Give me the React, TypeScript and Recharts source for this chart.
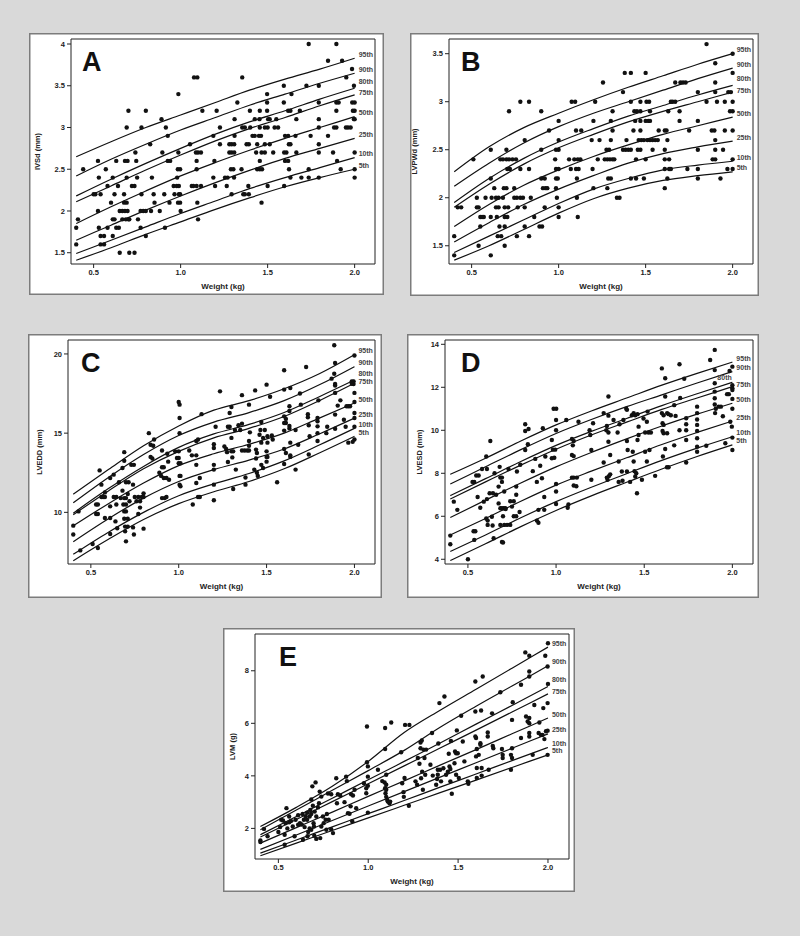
import React from 'react';
import { ComposedChart, Scatter, Line, XAxis, YAxis, ReferenceArea } from 'recharts';

const FONT = '"Liberation Sans", Arial, sans-serif';

// weights where the percentile curves were sampled
const WEIGHTS = [0.4, 0.6, 0.8, 1.0, 1.2, 1.4, 1.6, 1.8, 2.0];
const PCT_LABELS = ['95th', '90th', '80th', '75th', '50th', '25th', '10th', '5th'];
const X_TICKS = [0.5, 1.0, 1.5, 2.0];
const X_DOMAIN = [0.37, 2.117];

// ---- A: IVSd ----
const aTicks = [1.5, 2, 2.5, 3, 3.5, 4];
const aCurves = [
  [2.65, 2.83, 3.0, 3.15, 3.3, 3.45, 3.58, 3.7, 3.83],
  [2.42, 2.62, 2.8, 2.97, 3.12, 3.27, 3.4, 3.53, 3.65],
  [2.18, 2.38, 2.57, 2.75, 2.92, 3.07, 3.2, 3.34, 3.47],
  [2.11, 2.3, 2.49, 2.67, 2.84, 2.99, 3.12, 3.26, 3.39],
  [1.85, 2.05, 2.24, 2.42, 2.58, 2.73, 2.87, 3.0, 3.13],
  [1.65, 1.83, 2.01, 2.18, 2.34, 2.49, 2.63, 2.75, 2.87],
  [1.49, 1.65, 1.81, 1.97, 2.12, 2.27, 2.4, 2.52, 2.64],
  [1.41, 1.56, 1.72, 1.87, 2.02, 2.16, 2.29, 2.4, 2.5],
];
const aPoints = [
  [0.40,1.6],[0.40,1.8],[0.41,1.9],[0.44,2.5],[0.50,2.2],[0.51,2.2],[0.525,2.6],[0.53,2.4],[0.525,2.0],[0.53,1.8],
  [0.54,1.7],[0.56,1.7],[0.54,2.2],[0.54,1.6],[0.56,1.6],[0.57,2.5],[0.58,2.3],[0.58,1.8],[0.60,2.1],[0.61,2.4],
  [0.61,1.7],[0.61,1.9],[0.62,1.9],[0.62,2.2],[0.63,2.6],[0.63,1.8],[0.645,1.8],[0.65,2.0],[0.665,2.0],[0.64,2.3],
  [0.65,1.5],[0.665,1.9],[0.685,1.9],[0.675,2.1],[0.69,2.1],[0.675,2.2],[0.68,2.6],[0.695,2.6],[0.69,2.4],[0.69,3.0],
  [0.70,3.2],[0.68,2.0],[0.695,2.0],[0.70,1.9],[0.705,1.9],[0.705,1.5],[0.735,1.5],[0.72,2.3],[0.735,2.3],[0.74,2.7],
  [0.745,2.6],[0.75,2.4],[0.755,1.9],[0.77,1.8],[0.775,2.2],[0.775,3.0],[0.77,2.0],[0.785,2.0],[0.80,1.7],[0.80,3.2],
  [0.80,2.0],[0.825,2.8],[0.83,2.0],[0.835,2.4],[0.845,2.2],[0.85,2.1],[0.88,2.0],[0.89,3.1],[0.895,2.7],[0.906,2.2],
  [0.91,1.8],[0.915,3.0],[0.926,2.9],[0.926,2.6],[0.94,2.6],[0.936,2.1],[0.96,2.3],[0.965,2.2],[0.978,2.3],[0.99,2.3],
  [0.98,2.4],[0.984,2.5],[0.997,2.5],[0.987,3.4],[0.985,2.1],[0.997,2.1],[0.99,2.2],[0.997,2.2],[0.987,2.7],[1.0,2.0],
  [1.054,2.8],[1.064,2.3],[1.073,2.3],[1.092,2.3],[1.117,2.3],[1.077,3.6],[1.096,3.6],[1.088,2.7],[1.1,2.7],[1.117,2.7],
  [1.092,2.5],[1.092,2.6],[1.096,2.1],[1.1,1.9],[1.125,3.2],[1.188,2.9],[1.188,2.4],[1.194,2.6],[1.198,2.3],[1.207,3.2],
  [1.226,3.0],[1.226,2.8],[1.255,2.4],[1.27,2.4],[1.265,2.3],[1.28,2.7],[1.293,2.7],[1.308,2.7],[1.28,2.8],[1.293,2.8],
  [1.308,2.8],[1.289,2.5],[1.303,2.5],[1.293,2.2],[1.307,2.4],[1.31,2.9],[1.31,3.1],[1.326,3.3],[1.35,2.5],[1.354,3.6],
  [1.354,3.0],[1.369,3.0],[1.36,2.2],[1.369,2.2],[1.379,2.8],[1.392,2.8],[1.389,2.3],[1.392,2.2],[1.398,3.2],[1.4,3.0],
  [1.413,2.9],[1.426,2.9],[1.426,3.1],[1.434,2.7],[1.44,2.8],[1.44,2.5],[1.455,2.5],[1.468,2.5],[1.45,2.9],[1.462,2.9],
  [1.453,3.1],[1.455,3.0],[1.455,2.6],[1.455,3.2],[1.465,2.1],[1.465,2.7],[1.484,2.8],[1.484,3.0],[1.484,2.7],[1.497,3.4],
  [1.497,3.3],[1.497,3.2],[1.503,3.1],[1.512,3.1],[1.5,3.0],[1.5,2.3],[1.512,2.8],[1.532,2.7],[1.54,3.0],[1.55,3.1],
  [1.56,3.0],[1.593,3.5],[1.593,3.3],[1.595,2.3],[1.595,2.7],[1.608,2.7],[1.6,2.6],[1.618,2.6],[1.6,2.9],[1.618,2.9],
  [1.618,3.2],[1.631,3.2],[1.622,2.8],[1.631,2.8],[1.623,2.5],[1.631,2.4],[1.637,3.4],[1.66,2.9],[1.665,2.7],[1.665,3.1],
  [1.685,3.2],[1.694,2.4],[1.723,3.5],[1.736,4.0],[1.736,2.4],[1.736,2.5],[1.747,2.9],[1.794,3.5],[1.794,3.3],[1.794,3.1],
  [1.794,3.0],[1.794,2.8],[1.794,2.7],[1.794,2.4],[1.847,2.9],[1.847,3.8],[1.876,2.7],[1.882,3.0],[1.895,3.0],[1.895,4.0],
  [1.895,3.2],[1.895,3.3],[1.908,3.3],[1.899,2.6],[1.92,2.5],[1.928,3.8],[1.95,3.0],[1.962,3.0],[1.977,3.0],[1.952,3.6],
  [1.985,3.7],[1.986,3.3],[2.0,3.3],[1.99,3.2],[2.0,3.2],[1.996,3.1],[2.0,3.1],[1.996,3.5],[2.0,2.7],[2.0,2.5],[2.0,2.4],
];

// ---- B: LVPWd ----
const bTicks = [1.5, 2, 2.5, 3, 3.5];
const bCurves = [
  [2.27, 2.53, 2.73, 2.88, 3.02, 3.15, 3.27, 3.39, 3.5],
  [2.12, 2.36, 2.57, 2.74, 2.88, 3.0, 3.12, 3.24, 3.35],
  [1.95, 2.2, 2.41, 2.58, 2.72, 2.85, 2.96, 3.07, 3.17],
  [1.9, 2.14, 2.35, 2.52, 2.66, 2.79, 2.9, 3.0, 3.1],
  [1.7, 1.93, 2.13, 2.29, 2.43, 2.55, 2.66, 2.75, 2.84],
  [1.54, 1.74, 1.93, 2.09, 2.23, 2.36, 2.46, 2.53, 2.59],
  [1.43, 1.6, 1.77, 1.94, 2.09, 2.2, 2.29, 2.34, 2.38],
  [1.35, 1.5, 1.67, 1.84, 1.99, 2.1, 2.18, 2.23, 2.27],
];
const bPoints = [
  [0.40,1.6],[0.40,1.4],[0.42,1.9],[0.44,1.9],[0.51,2.4],[0.53,2.0],[0.53,1.9],[0.54,1.9],[0.54,1.5],[0.55,1.8],
  [0.56,1.8],[0.57,1.8],[0.55,1.7],[0.58,2.0],[0.61,2.5],[0.61,2.2],[0.61,1.8],[0.61,1.4],[0.615,2.0],[0.63,2.1],
  [0.64,2.0],[0.655,2.0],[0.64,1.9],[0.655,1.9],[0.645,1.8],[0.65,1.6],[0.66,1.7],[0.665,2.4],[0.68,2.4],[0.67,1.6],
  [0.68,2.0],[0.685,2.1],[0.70,2.1],[0.69,1.7],[0.69,1.9],[0.71,1.9],[0.69,1.8],[0.705,1.8],[0.69,1.5],[0.70,2.5],
  [0.70,2.4],[0.715,2.4],[0.705,2.3],[0.715,2.9],[0.72,2.3],[0.735,2.4],[0.755,2.4],[0.745,2.1],[0.745,2.0],[0.76,2.0],
  [0.76,1.6],[0.765,1.9],[0.78,2.0],[0.78,3.0],[0.78,2.3],[0.795,2.0],[0.805,1.9],[0.805,2.6],[0.805,1.7],[0.83,3.0],
  [0.83,1.6],[0.83,2.3],[0.84,2.0],[0.86,1.8],[0.90,2.9],[0.89,1.7],[0.905,1.7],[0.90,2.2],[0.90,2.5],[0.91,2.1],
  [0.925,2.1],[0.935,2.1],[0.92,2.2],[0.92,1.9],[0.945,2.7],[0.98,2.4],[0.985,2.2],[0.995,2.2],[0.985,2.3],[0.985,2.1],
  [0.985,2.5],[1.0,2.5],[0.99,2.0],[1.0,2.8],[1.0,2.6],[1.0,2.3],[1.0,1.9],[1.0,1.8],[1.06,2.4],[1.07,2.3],
  [1.075,3.0],[1.095,3.0],[1.09,2.4],[1.1,2.7],[1.1,2.3],[1.115,2.3],[1.105,2.2],[1.105,2.0],[1.11,2.4],[1.125,2.4],
  [1.11,1.8],[1.13,2.7],[1.19,2.6],[1.195,2.3],[1.2,2.8],[1.2,2.1],[1.21,3.0],[1.225,2.4],[1.235,2.6],[1.255,3.2],
  [1.265,2.4],[1.275,2.5],[1.29,2.5],[1.28,2.4],[1.295,2.4],[1.31,2.4],[1.28,2.1],[1.285,2.2],[1.3,2.2],[1.3,2.6],
  [1.3,2.8],[1.31,2.7],[1.31,2.9],[1.32,2.4],[1.335,2.0],[1.35,2.0],[1.37,3.1],[1.38,3.3],[1.415,3.3],[1.37,2.5],
  [1.385,2.5],[1.4,2.5],[1.39,2.6],[1.415,3.0],[1.415,2.2],[1.415,2.5],[1.43,2.7],[1.435,2.9],[1.45,2.9],[1.44,2.8],
  [1.445,2.4],[1.445,2.2],[1.455,2.5],[1.47,2.5],[1.46,2.6],[1.47,3.0],[1.47,2.9],[1.47,2.7],[1.47,2.8],[1.475,2.6],
  [1.49,2.6],[1.49,2.2],[1.5,2.8],[1.515,2.8],[1.525,2.8],[1.505,3.0],[1.52,3.0],[1.5,3.3],[1.51,2.6],[1.525,2.6],
  [1.54,2.6],[1.5,2.4],[1.525,2.9],[1.54,2.5],[1.555,2.6],[1.57,2.6],[1.575,2.7],[1.61,2.7],[1.61,2.5],[1.61,2.4],
  [1.61,2.3],[1.61,2.1],[1.62,2.7],[1.625,2.6],[1.635,2.3],[1.645,2.3],[1.625,2.2],[1.63,2.9],[1.635,2.4],[1.645,3.0],
  [1.655,3.0],[1.67,3.2],[1.7,3.2],[1.715,3.2],[1.73,3.2],[1.67,3.0],[1.695,2.9],[1.695,2.8],[1.75,2.7],[1.74,2.3],
  [1.8,3.1],[1.8,2.8],[1.8,2.5],[1.8,2.3],[1.8,2.2],[1.85,3.6],[1.85,3.0],[1.88,2.7],[1.895,2.7],[1.885,2.4],
  [1.9,2.4],[1.9,3.4],[1.9,3.2],[1.9,3.1],[1.9,2.6],[1.9,2.5],[1.91,3.0],[1.93,2.2],[1.945,2.5],[1.955,2.7],
  [1.955,3.0],[1.975,3.1],[1.99,3.1],[1.97,2.3],[2.0,2.3],[1.985,2.9],[2.0,2.9],[2.0,3.5],[2.0,3.3],[2.0,3.0],
  [2.0,2.7],[2.0,2.4],
];

// ---- C: LVEDD ----
const cTicks = [10, 15, 20];
const cCurves = [
  [11.15, 12.7, 14.2, 15.45, 16.45, 17.05, 17.8, 18.75, 19.95],
  [10.6, 12.2, 13.65, 14.85, 15.7, 16.3, 17.05, 18.05, 19.2],
  [9.95, 11.5, 12.9, 14.1, 14.95, 15.55, 16.3, 17.3, 18.35],
  [9.85, 11.35, 12.75, 13.85, 14.7, 15.3, 16.05, 17.05, 18.15],
  [9.15, 10.55, 11.85, 12.95, 13.7, 14.3, 15.0, 15.95, 16.9],
  [8.15, 9.6, 10.9, 11.95, 12.7, 13.3, 14.0, 14.95, 15.95],
  [7.35, 8.75, 10.0, 11.05, 11.8, 12.45, 13.25, 14.25, 15.3],
  [6.95, 8.3, 9.55, 10.55, 11.3, 11.95, 12.75, 13.75, 14.8],
];
const cPoints = [
  [0.40,9.16],[0.40,8.6],[0.43,10.06],[0.44,7.6],[0.51,8.0],[0.54,7.75],[0.53,9.9],[0.54,9.9],[0.53,10.5],[0.54,10.5],
  [0.55,12.65],[0.56,11.75],[0.56,10.97],[0.57,10.97],[0.58,10.97],[0.58,11.26],[0.58,9.64],[0.61,12.17],[0.61,10.38],[0.61,8.63],
  [0.61,9.64],[0.63,12.38],[0.63,10.97],[0.645,10.97],[0.64,9.43],[0.65,9.0],[0.645,10.5],[0.66,11.9],[0.68,12.8],[0.69,13.26],
  [0.69,13.8],[0.67,10.9],[0.69,10.9],[0.70,10.9],[0.68,11.37],[0.685,10.5],[0.70,10.5],[0.69,10.06],[0.70,10.06],[0.69,9.6],
  [0.71,9.6],[0.695,9.1],[0.71,9.1],[0.695,8.8],[0.70,8.17],[0.70,11.9],[0.715,11.9],[0.71,11.16],[0.72,10.7],[0.73,13.0],
  [0.745,13.0],[0.74,11.75],[0.74,9.05],[0.745,8.6],[0.75,10.97],[0.77,10.97],[0.79,10.97],[0.80,10.97],[0.76,10.7],[0.78,10.7],
  [0.77,9.9],[0.78,10.3],[0.80,11.2],[0.80,8.97],[0.83,15.0],[0.84,13.5],[0.85,13.4],[0.84,14.27],[0.855,14.2],[0.86,14.6],
  [0.89,12.5],[0.90,12.3],[0.905,13.9],[0.905,12.85],[0.915,12.85],[0.905,10.9],[0.92,10.9],[0.915,12.17],[0.93,12.17],[0.93,10.97],
  [0.94,13.2],[0.935,13.7],[0.945,12.06],[0.98,13.85],[1.0,13.85],[0.99,13.43],[1.0,13.43],[1.0,13.1],[1.01,13.1],[1.0,16.97],
  [1.005,16.8],[1.005,15.96],[1.005,15.0],[1.005,12.3],[1.01,12.3],[1.005,11.75],[1.01,11.65],[1.06,13.9],[1.075,13.6],[1.08,10.5],
  [1.1,13.6],[1.1,13.0],[1.1,14.5],[1.11,14.6],[1.1,11.85],[1.11,10.97],[1.12,10.97],[1.12,12.17],[1.13,16.2],[1.2,14.3],
  [1.2,14.06],[1.2,13.0],[1.2,12.7],[1.2,11.75],[1.2,10.76],[1.21,15.4],[1.235,17.64],[1.26,14.16],[1.27,14.0],[1.275,13.8],
  [1.28,15.4],[1.29,15.4],[1.28,13.18],[1.29,16.27],[1.3,16.65],[1.3,14.7],[1.3,13.85],[1.31,13.85],[1.305,13.47],[1.31,11.47],
  [1.32,15.2],[1.325,12.7],[1.34,15.5],[1.35,15.2],[1.36,17.4],[1.36,15.6],[1.36,13.9],[1.375,13.9],[1.39,13.9],[1.38,12.2],
  [1.38,11.75],[1.4,14.5],[1.4,14.2],[1.4,13.9],[1.405,15.05],[1.4,16.8],[1.43,12.7],[1.435,17.7],[1.44,13.96],[1.445,13.75],
  [1.44,13.4],[1.445,12.5],[1.45,12.3],[1.46,14.9],[1.465,15.2],[1.47,15.7],[1.47,13.0],[1.47,14.4],[1.48,14.7],[1.48,12.8],
  [1.49,15.2],[1.5,18.06],[1.5,13.85],[1.5,13.5],[1.505,13.5],[1.5,13.2],[1.505,14.8],[1.505,14.4],[1.52,17.3],[1.53,14.85],
  [1.535,14.6],[1.56,11.9],[1.6,18.97],[1.6,17.75],[1.6,16.06],[1.61,15.9],[1.6,15.64],[1.61,15.64],[1.6,15.16],[1.6,14.0],
  [1.61,13.75],[1.6,13.05],[1.63,16.7],[1.63,16.4],[1.63,15.3],[1.63,15.45],[1.635,13.6],[1.635,17.85],[1.635,14.4],[1.635,13.5],
  [1.665,15.2],[1.665,12.7],[1.68,14.27],[1.69,17.5],[1.695,16.8],[1.725,19.18],[1.735,16.2],[1.735,16.0],[1.74,13.65],[1.74,15.5],
  [1.745,14.8],[1.79,15.96],[1.79,15.75],[1.79,15.43],[1.79,15.0],[1.79,14.5],[1.795,17.07],[1.84,15.0],[1.845,15.4],[1.87,18.44],
  [1.885,20.55],[1.89,19.43],[1.885,18.75],[1.89,18.1],[1.89,18.0],[1.89,17.54],[1.89,16.17],[1.89,15.28],[1.905,16.74],[1.92,17.07],
  [1.94,15.85],[1.95,15.4],[1.955,16.7],[1.965,16.7],[1.975,16.7],[1.965,14.4],[1.985,18.27],[1.995,18.27],[1.995,18.1],[1.985,18.12],
  [2.0,19.9],[2.0,17.54],[2.0,16.97],[2.0,16.27],[2.0,15.96],[2.0,14.6],[2.0,15.4],[1.99,14.45],
];

// ---- D: LVESD ----
const dTicks = [4, 6, 8, 10, 12, 14];
const dCurves = [
  [7.95, 8.7, 9.5, 10.25, 10.9, 11.5, 12.1, 12.65, 13.17],
  [7.5, 8.3, 9.1, 9.85, 10.5, 11.1, 11.65, 12.2, 12.73],
  [6.96, 7.75, 8.55, 9.3, 9.95, 10.55, 11.15, 11.7, 12.23],
  [6.8, 7.6, 8.38, 9.12, 9.78, 10.38, 10.97, 11.5, 12.03],
  [5.94, 6.75, 7.55, 8.3, 8.97, 9.6, 10.2, 10.75, 11.26],
  [5.13, 5.9, 6.7, 7.45, 8.1, 8.72, 9.34, 9.9, 10.43],
  [4.36, 5.13, 5.93, 6.68, 7.35, 7.98, 8.6, 9.17, 9.7],
  [3.94, 4.72, 5.52, 6.27, 6.95, 7.58, 8.2, 8.78, 9.32],
];
const dPoints = [
  [0.40,5.1],[0.40,4.7],[0.42,6.68],[0.44,6.3],[0.50,4.0],[0.526,7.6],[0.536,7.6],[0.532,5.3],[0.542,5.3],[0.536,4.9],
  [0.547,7.9],[0.561,7.9],[0.555,6.9],[0.57,6.4],[0.58,8.2],[0.59,6.68],[0.604,8.78],[0.608,8.2],[0.608,6.8],[0.604,5.9],
  [0.612,5.8],[0.612,5.6],[0.627,9.5],[0.623,7.07],[0.642,7.07],[0.636,5.98],[0.64,5.57],[0.646,4.98],[0.651,8.0],[0.66,7.0],
  [0.674,6.6],[0.674,7.38],[0.68,8.3],[0.684,7.8],[0.693,7.8],[0.684,6.37],[0.693,6.37],[0.703,6.37],[0.712,6.37],[0.684,5.6],
  [0.706,5.6],[0.722,5.6],[0.74,5.6],[0.693,4.8],[0.699,4.78],[0.693,7.6],[0.699,6.0],[0.706,7.15],[0.714,6.34],[0.73,8.2],
  [0.74,6.7],[0.76,6.7],[0.75,6.45],[0.76,6.0],[0.774,6.0],[0.774,7.38],[0.774,7.0],[0.778,8.08],[0.793,6.2],[0.797,8.4],
  [0.825,10.28],[0.825,9.97],[0.825,9.08],[0.844,10.06],[0.84,9.35],[0.868,8.1],[0.882,8.67],[0.891,7.6],[0.891,5.8],[0.9,5.7],
  [0.9,6.3],[0.91,8.35],[0.92,7.77],[0.925,10.1],[0.933,6.3],[0.933,6.9],[0.939,8.78],[0.976,9.55],[0.982,9.1],[0.995,9.1],
  [0.976,8.7],[0.99,8.72],[0.986,11.0],[1.001,11.0],[1.0,10.48],[1.0,10.0],[1.0,7.5],[1.0,7.15],[1.0,6.57],[1.058,10.48],
  [1.07,6.55],[1.066,6.4],[1.09,9.6],[1.1,9.5],[1.095,9.3],[1.09,8.85],[1.1,8.8],[1.09,7.8],[1.1,7.8],[1.1,7.43],
  [1.115,7.4],[1.118,7.8],[1.127,10.4],[1.19,10.0],[1.194,9.78],[1.2,9.08],[1.2,7.7],[1.21,10.33],[1.27,10.8],[1.27,8.5],
  [1.285,10.0],[1.288,10.2],[1.288,7.8],[1.3,7.87],[1.307,7.95],[1.292,7.7],[1.297,11.57],[1.297,10.68],[1.297,9.9],[1.297,9.47],
  [1.307,8.85],[1.326,10.48],[1.349,9.9],[1.36,10.28],[1.355,8.55],[1.355,7.6],[1.373,8.08],[1.377,7.65],[1.382,10.48],[1.398,11.0],
  [1.402,10.95],[1.402,9.5],[1.406,9.08],[1.402,8.08],[1.42,7.6],[1.43,10.7],[1.44,10.8],[1.449,10.7],[1.462,10.75],[1.435,9.0],
  [1.44,8.55],[1.445,8.1],[1.455,8.0],[1.449,7.85],[1.459,7.07],[1.462,9.55],[1.468,10.17],[1.468,9.78],[1.487,7.7],[1.496,10.55],
  [1.505,9.0],[1.505,9.9],[1.524,9.9],[1.515,10.4],[1.515,8.55],[1.519,10.87],[1.53,9.08],[1.538,9.9],[1.562,7.88],[1.6,12.88],
  [1.6,10.8],[1.61,10.7],[1.604,10.33],[1.61,10.25],[1.604,9.97],[1.61,9.86],[1.606,8.78],[1.619,12.42],[1.619,11.57],[1.619,9.13],
  [1.63,10.8],[1.638,10.75],[1.63,9.86],[1.629,8.28],[1.638,8.28],[1.651,10.7],[1.67,11.17],[1.67,9.3],[1.678,10.67],[1.7,13.07],
  [1.704,11.5],[1.7,10.0],[1.727,12.4],[1.738,10.56],[1.738,10.28],[1.738,10.0],[1.738,9.55],[1.738,8.5],[1.8,11.1],[1.8,10.8],
  [1.8,10.5],[1.8,10.25],[1.8,9.97],[1.8,9.63],[1.8,9.24],[1.8,9.0],[1.852,9.28],[1.874,13.27],[1.9,13.74],[1.9,12.8],
  [1.9,12.19],[1.9,11.8],[1.9,11.49],[1.9,11.2],[1.906,11.0],[1.902,10.8],[1.922,11.1],[1.935,11.1],[1.946,10.65],[1.96,9.4],
  [1.97,11.68],[1.98,11.68],[1.984,12.76],[1.988,10.4],[1.997,10.17],[2.0,12.96],[2.0,12.1],[2.0,11.95],[2.0,11.87],[2.0,11.46],
  [2.0,11.0],[2.0,9.66],[2.0,9.08],
];

// ---- E: LVM ----
const eTicks = [2, 4, 6, 8];
const eCurves = [
  [2.07, 2.8, 3.6, 4.55, 5.65, 6.5, 7.3, 8.1, 8.9],
  [1.95, 2.7, 3.45, 4.2, 4.97, 5.85, 6.65, 7.42, 8.19],
  [1.76, 2.45, 3.15, 3.85, 4.55, 5.25, 5.97, 6.68, 7.4],
  [1.67, 2.34, 3.02, 3.7, 4.38, 5.06, 5.74, 6.43, 7.12],
  [1.44, 2.03, 2.62, 3.22, 3.81, 4.41, 5.0, 5.6, 6.2],
  [1.2, 1.75, 2.3, 2.85, 3.4, 3.95, 4.5, 5.05, 5.6],
  [1.06, 1.56, 2.06, 2.56, 3.06, 3.57, 4.07, 4.58, 5.08],
  [0.96, 1.44, 1.92, 2.4, 2.88, 3.36, 3.84, 4.32, 4.8],
];
const ePoints = [
  [0.40,1.54],[0.40,1.48],[0.42,1.98],[0.44,1.7],[0.50,1.86],[0.51,2.05],[0.516,2.33],[0.526,2.3],[0.535,1.38],[0.535,1.76],
  [0.54,2.2],[0.545,2.77],[0.55,2.0],[0.56,2.23],[0.57,2.28],[0.56,2.45],[0.58,2.07],[0.59,1.7],[0.596,2.33],[0.61,2.5],
  [0.61,2.14],[0.62,2.2],[0.63,2.15],[0.635,2.55],[0.642,2.33],[0.637,1.57],[0.646,2.05],[0.652,2.45],[0.66,2.6],[0.66,2.33],
  [0.662,1.7],[0.666,1.86],[0.674,2.45],[0.683,2.55],[0.674,2.0],[0.683,1.95],[0.678,2.7],[0.683,3.1],[0.689,3.6],[0.692,2.86],
  [0.696,2.2],[0.698,2.07],[0.7,1.72],[0.707,3.75],[0.711,2.45],[0.711,1.6],[0.702,2.64],[0.72,2.8],[0.726,2.96],[0.73,3.4],
  [0.733,1.63],[0.739,2.07],[0.739,3.21],[0.748,2.45],[0.752,2.2],[0.763,2.33],[0.767,1.95],[0.77,2.55],[0.776,3.33],[0.794,3.3],
  [0.78,2.33],[0.794,1.97],[0.804,1.82],[0.822,3.91],[0.826,2.96],[0.831,3.3],[0.844,3.25],[0.868,3.0],[0.877,3.97],[0.881,3.8],
  [0.887,2.58],[0.896,2.56],[0.902,2.84],[0.905,3.3],[0.915,3.25],[0.911,2.27],[0.924,3.47],[0.933,2.77],[0.976,3.72],[0.989,3.53],
  [0.989,3.34],[0.993,5.88],[0.993,4.52],[0.998,3.97],[0.998,4.36],[0.998,2.6],[0.998,3.62],[1.054,4.23],[1.078,3.8],[1.091,3.75],
  [1.094,5.82],[1.094,5.02],[1.094,3.53],[1.1,3.47],[1.096,3.34],[1.1,3.2],[1.106,3.08],[1.109,3.02],[1.1,3.66],[1.1,4.04],
  [1.118,2.96],[1.122,3.02],[1.128,6.03],[1.183,4.9],[1.189,3.72],[1.196,3.38],[1.198,3.2],[1.202,3.92],[1.205,5.94],[1.229,5.94],
  [1.226,2.86],[1.263,3.79],[1.272,3.66],[1.276,4.68],[1.285,4.46],[1.291,5.27],[1.298,5.35],[1.291,5.05],[1.294,3.91],[1.3,4.16],
  [1.304,3.47],[1.307,5.0],[1.313,4.68],[1.317,4.04],[1.322,5.0],[1.346,4.42],[1.355,5.63],[1.359,4.01],[1.378,3.66],[1.383,3.88],
  [1.387,4.04],[1.39,5.23],[1.387,4.23],[1.396,6.77],[1.4,4.23],[1.405,3.79],[1.418,4.29],[1.424,7.02],[1.433,4.04],[1.443,4.16],
  [1.448,4.84],[1.452,4.36],[1.457,4.26],[1.457,3.79],[1.46,5.33],[1.465,3.32],[1.48,4.48],[1.483,4.93],[1.489,4.86],[1.498,4.86],
  [1.489,4.04],[1.493,5.73],[1.504,3.92],[1.517,6.29],[1.526,5.31],[1.535,4.55],[1.554,3.79],[1.557,3.7],[1.596,7.59],[1.596,6.45],
  [1.596,5.5],[1.6,5.44],[1.604,5.02],[1.6,4.74],[1.604,4.3],[1.604,3.92],[1.615,4.8],[1.624,5.24],[1.624,5.18],[1.628,6.49],
  [1.631,4.3],[1.631,4.01],[1.637,7.78],[1.67,4.23],[1.665,5.65],[1.665,5.5],[1.689,6.38],[1.693,5.14],[1.696,5.05],[1.735,7.18],
  [1.744,5.02],[1.748,4.8],[1.748,4.68],[1.794,4.23],[1.794,4.8],[1.8,4.68],[1.8,5.05],[1.8,6.13],[1.804,6.8],[1.85,7.47],
  [1.85,5.44],[1.874,8.7],[1.878,6.26],[1.887,6.07],[1.896,5.63],[1.896,8.57],[1.896,7.97],[1.896,7.78],[1.896,6.2],[1.896,6.0],
  [1.896,5.5],[1.915,4.8],[1.924,6.7],[1.948,5.63],[1.952,6.03],[1.961,5.56],[1.97,5.56],[1.974,6.58],[1.98,5.4],[1.985,8.57],
  [1.998,8.16],[1.998,6.77],[1.998,4.8],[1.989,5.7],[1.998,5.72],[2.0,9.05],[2.0,7.5],
];

// panel frames in page pixels: outer box + plot rectangle
const LAYOUT = {
  A: { left: 29, top: 33, width: 355, height: 262, plotL: 71, plotT: 39, plotR: 375, plotB: 264, ylabX: 11, letterDx: 11 },
  B: { left: 410, top: 33, width: 349, height: 263, plotL: 449, plotT: 39, plotR: 753, plotB: 264, ylabX: 7, letterDx: 12 },
  C: { left: 28, top: 334, width: 354, height: 264, plotL: 68, plotT: 340, plotR: 375, plotB: 564, ylabX: 14, letterDx: 13 },
  D: { left: 407, top: 334, width: 352, height: 264, plotL: 445, plotT: 340, plotR: 753, plotB: 564, ylabX: 15, letterDx: 16 },
  E: { left: 223, top: 628, width: 352, height: 264, plotL: 255, plotT: 634, plotR: 569, plotB: 859, ylabX: 12, letterDx: 24 },
};

// end-label nudges [dx, dy] where labels crowd together
const LABEL_NUDGE = {
  '80th': [4, -4.5],
  '75th': [4, 0.5],
};
const D_80TH_NUDGE = [-15, -2];

const tickStyle = { fontSize: 7.5, fill: '#222', fontWeight: 700, fontFamily: FONT };

function Panel({ letter, yLabel, points, curves, yTicks, yDomain }) {
  const box = LAYOUT[letter];
  const scatterData = points.map(([x, y]) => ({ x, y }));
  const yAxisW = box.plotL - box.left;
  const xAxisH = box.top + box.height - box.plotB;

  const endLabel = (name) => (p) => {
    if (p.index !== WEIGHTS.length - 1) return null;
    let [dx, dy] = LABEL_NUDGE[name] || [4, -1.5];
    if (letter === 'D' && name === '80th') [dx, dy] = D_80TH_NUDGE;
    return (
      <text x={p.x + dx} y={p.y + dy} fontSize={7} fontWeight={700} fill="#444" fontFamily={FONT}>
        {name}
      </text>
    );
  };

  return (
    <div
      style={{
        position: 'absolute',
        left: box.left,
        top: box.top,
        width: box.width,
        height: box.height,
        background: '#fff',
        boxShadow: 'inset 0 0 0 1.5px #7c7c7c',
      }}
    >
      <ComposedChart
        width={box.width}
        height={box.height}
        margin={{ top: box.plotT - box.top, right: box.left + box.width - box.plotR, bottom: 0, left: 0 }}
      >
        <XAxis
          type="number"
          dataKey="x"
          domain={X_DOMAIN}
          ticks={X_TICKS}
          allowDataOverflow
          height={xAxisH}
          axisLine={false}
          tickLine={{ stroke: '#222' }}
          tickSize={4}
          tickMargin={2}
          tick={tickStyle}
          tickFormatter={(v) => v.toFixed(1)}
          label={(p) => {
            const vb = p.viewBox;
            return (
              <text x={vb.x + vb.width / 2} y={vb.y + 25} textAnchor="middle" fontSize={8} fontWeight={700} fill="#222" fontFamily={FONT}>
                Weight (kg)
              </text>
            );
          }}
        />
        <YAxis
          type="number"
          dataKey="y"
          domain={yDomain}
          ticks={yTicks}
          allowDataOverflow
          width={yAxisW}
          axisLine={false}
          tickLine={{ stroke: '#222' }}
          tickSize={4}
          tickMargin={2}
          tick={tickStyle}
          label={(p) => {
            const vb = p.viewBox;
            const lx = vb.x + box.ylabX;
            const ly = vb.y + vb.height / 2;
            return (
              <text x={lx} y={ly} transform={`rotate(-90, ${lx}, ${ly})`} textAnchor="middle" fontSize={7.5} fontWeight={700} fill="#222" fontFamily={FONT}>
                {yLabel}
              </text>
            );
          }}
        />
        <ReferenceArea
          x1={X_DOMAIN[0]}
          x2={X_DOMAIN[1]}
          y1={yDomain[0]}
          y2={yDomain[1]}
          ifOverflow="visible"
          fill="none"
          fillOpacity={0}
          stroke="#222"
          strokeWidth={1}
          label={(p) => {
            const vb = p.viewBox;
            return (
              <text x={vb.x + box.letterDx} y={vb.y + 32} fontSize={27} fontWeight={700} fill="#111" fontFamily={FONT}>
                {letter}
              </text>
            );
          }}
        />
        {curves.map((vals, i) => (
          <Line
            key={PCT_LABELS[i]}
            data={vals.map((y, j) => ({ x: WEIGHTS[j], y }))}
            dataKey="y"
            type="monotone"
            stroke="#111"
            strokeWidth={1.2}
            dot={false}
            activeDot={false}
            isAnimationActive={false}
            label={endLabel(PCT_LABELS[i])}
          />
        ))}
        <Scatter
          data={scatterData}
          isAnimationActive={false}
          shape={(p) => <circle cx={p.cx} cy={p.cy} r={2.2} fill="#111" />}
        />
      </ComposedChart>
    </div>
  );
}

export default function App() {
  return (
    <div style={{ position: 'absolute', left: 0, top: 0, width: 800, height: 936, background: '#d9d9d9', fontFamily: FONT }}>
      <Panel letter="A" yLabel="IVSd (mm)" points={aPoints} curves={aCurves} yTicks={aTicks} yDomain={[1.365, 4.06]} />
      <Panel letter="B" yLabel="LVPWd (mm)" points={bPoints} curves={bCurves} yTicks={bTicks} yDomain={[1.31, 3.653]} />
      <Panel letter="C" yLabel="LVEDD (mm)" points={cPoints} curves={cCurves} yTicks={cTicks} yDomain={[6.74, 20.88]} />
      <Panel letter="D" yLabel="LVESD (mm)" points={dPoints} curves={dCurves} yTicks={dTicks} yDomain={[3.78, 14.2]} />
      <Panel letter="E" yLabel="LVM (g)" points={ePoints} curves={eCurves} yTicks={eTicks} yDomain={[0.835, 9.4]} />
    </div>
  );
}
